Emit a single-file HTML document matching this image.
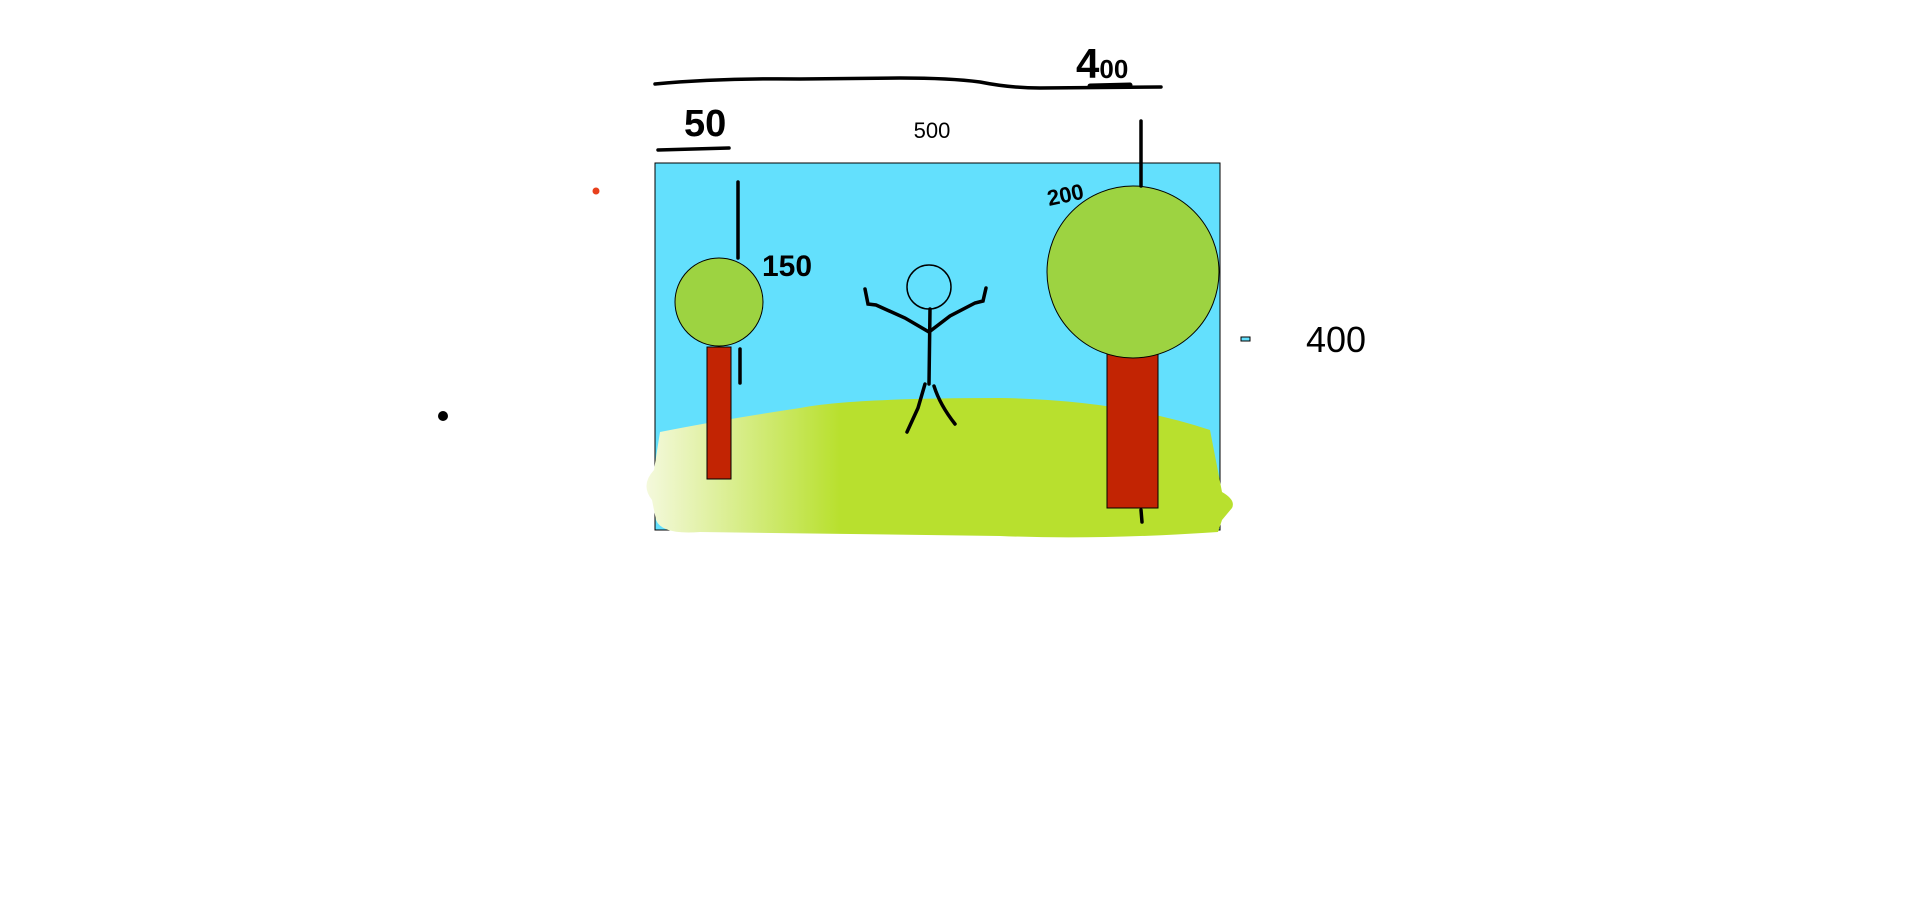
<!DOCTYPE html>
<html><head><meta charset="utf-8"><style>
html,body{margin:0;padding:0;background:#fff;width:1920px;height:919px;overflow:hidden}
svg{display:block}
</style></head><body>
<svg width="1920" height="919" viewBox="0 0 1920 919" font-family="Liberation Sans, sans-serif">
<defs>
<linearGradient id="g" x1="0" x2="1" y1="0" y2="0">
<stop offset="0" stop-color="#f4f9dc"/><stop offset="0.33" stop-color="#b8e02e"/><stop offset="1" stop-color="#b8e02e"/>
</linearGradient>
</defs>
<rect x="655" y="163" width="565" height="367" fill="#63e0fd" stroke="#000" stroke-width="1"/>
<path d="M660 432 Q720 420 800 408 Q850 398 1000 398 Q1120 400 1210 430 L1222 492 Q1236 500 1232 508 L1222 520 L1218 532 Q1100 540 1000 536 L700 532 Q662 535 656 520 L652 500 Q640 485 654 470 L660 432 Z" fill="url(#g)"/>
<rect x="707" y="347" width="24" height="132" fill="#c22403" stroke="#000" stroke-width="1"/>
<circle cx="719" cy="302" r="44" fill="#9dd341" stroke="#000" stroke-width="1"/>
<rect x="1107" y="354" width="51" height="154" fill="#c22403" stroke="#000" stroke-width="1"/>
<circle cx="1133" cy="272" r="86" fill="#9dd341" stroke="#000" stroke-width="1"/>
<g fill="none" stroke="#000" stroke-width="3.5" stroke-linecap="round">
<circle cx="929" cy="287" r="22" stroke-width="1.5"/>
<path d="M930 309 L929 384"/>
<path d="M865 289 L868 304 L876 305 L905 318 L929 332 L950 316 L975 303 L983 301 L986 288"/>
<path d="M925 384 L918 408 L907 432"/>
<path d="M934 386 Q940 405 955 424"/>
</g>
<g fill="none" stroke="#000" stroke-width="3.5" stroke-linecap="round">
<path d="M655 84 Q720 78 800 79 L900 78 Q950 78 980 82 Q1010 88 1040 88 L1161 87"/>
<path d="M1090 86 L1130 85" stroke-width="5"/>
<path d="M658 150 L729 148"/>
<path d="M738 182 L738 258"/>
<path d="M740 349 L740 383"/>
<path d="M1141 121 L1141 186"/>
<path d="M1141 510 L1142 522"/>
</g>
<text x="1076" y="78" font-size="42" font-weight="bold" fill="#000">4<tspan font-size="26">00</tspan></text>
<text x="684" y="136" font-size="38" font-weight="bold" fill="#000">50</text>
<text x="932" y="138" font-size="22" text-anchor="middle" fill="#000">500</text>
<text x="762" y="276" font-size="30" font-weight="bold" fill="#000">150</text>
<text x="1049" y="206" font-size="22" font-weight="bold" fill="#000" transform="rotate(-12 1049 206)">200</text>
<text x="1306" y="352" font-size="36" fill="#000">400</text>
<circle cx="596" cy="191" r="3.5" fill="#e8401c"/>
<circle cx="443" cy="416" r="5" fill="#000"/>
<rect x="1241" y="337" width="9" height="4" fill="#63e0fd" stroke="#000" stroke-width="1"/>
</svg>
</body></html>
